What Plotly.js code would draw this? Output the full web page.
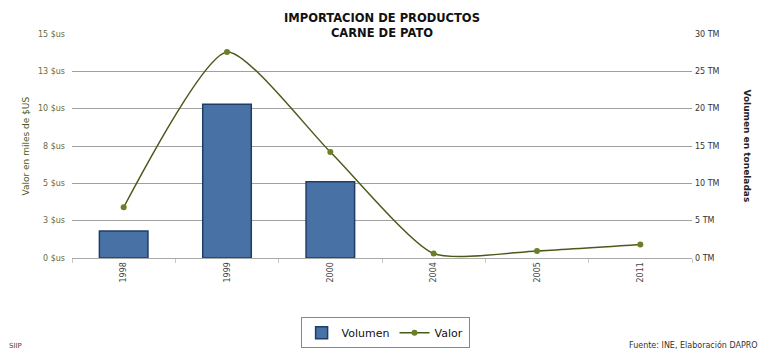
<!DOCTYPE html>
<html>
<head>
<meta charset="utf-8">
<script src="https://cdn.plot.ly/plotly-3.0.1.min.js"></script>
<style>
html,body{margin:0;padding:0;background:#fff;}
#chart{width:768px;height:362px;}
</style>
</head>
<body>
<div id="chart"></div>
<script>
// Data
var years = ["1998", "1999", "2000", "2004", "2005", "2011"];
var volumenTM = [3.6, 20.6, 10.2, null, null, null];
var valorMilesUS = [3.4, 13.8, 7.1, 0.3, 0.47, 0.9];
var leftTickVals = [0, 2.5, 5, 7.5, 10, 12.5, 15];
var leftTickText = ["0 $us", "3 $us", "5 $us", "8 $us", "10 $us", "13 $us", "15 $us"];
var rightTickVals = [0, 5, 10, 15, 20, 25, 30];
var rightTickText = ["0 TM", "5 TM", "10 TM", "15 TM", "20 TM", "25 TM", "30 TM"];
var titleLines = ["IMPORTACION DE PRODUCTOS", "CARNE DE PATO"];

var barTrace = {
  type: "bar",
  name: "Volumen",
  x: years,
  y: volumenTM,
  yaxis: "y",
  width: 0.47,
  marker: {color: "#4872a6", line: {color: "#1e3c68", width: 1.5}},
  hoverinfo: "x+y"
};
var lineTrace = {
  type: "scatter",
  mode: "lines+markers",
  name: "Valor",
  x: years,
  y: valorMilesUS,
  yaxis: "y2",
  line: {color: "#4a5a1c", width: 1.5, shape: "spline", smoothing: 0.6},
  marker: {color: "#6a8028", size: 6}
};

var tickFont = {family: "DejaVu Sans", size: 8, color: "#444"};

var layout = {
  width: 768,
  height: 362,
  margin: {l: 72, r: 76, t: 34, b: 104},
  paper_bgcolor: "#fff",
  plot_bgcolor: "#fff",
  showlegend: true,
  bargap: 0.5,
  xaxis: {
    type: "category",
    range: [-0.5, 5.5],
    tickangle: -90,
    tickfont: tickFont,
    ticks: "outside",
    tickson: "boundaries",
    ticklen: 4,
    tickcolor: "#c8c8c8",
    showline: true,
    linecolor: "#aaa",
    linewidth: 1,
    showgrid: false,
    fixedrange: true
  },
  yaxis: {
    side: "right",
    range: [0, 30],
    tickvals: rightTickVals,
    ticktext: rightTickText,
    tickfont: {family: "DejaVu Sans", size: 8, color: "#333"},
    showgrid: true,
    gridcolor: "#a0a0a0",
    gridwidth: 1,
    zeroline: false,
    ticks: "",
    ticklabelstandoff: 2,
    fixedrange: true
  },
  yaxis2: {
    overlaying: "y",
    side: "left",
    range: [0, 15],
    tickvals: leftTickVals,
    ticktext: leftTickText,
    tickfont: {family: "DejaVu Sans", size: 8, color: "#6a6a3c"},
    showgrid: false,
    zeroline: false,
    ticks: "",
    ticklabelstandoff: 6,
    fixedrange: true
  },
  legend: {
    orientation: "h",
    x: 0.505, xanchor: "center",
    y: -0.265, yanchor: "top",
    bordercolor: "#888",
    borderwidth: 1,
    bgcolor: "#fff",
    font: {family: "DejaVu Sans", size: 11, color: "#111"},
    itemwidth: 30,
    tracegroupgap: 0
  },
  annotations: [
    {text: "<b>" + titleLines[0] + "<br>" + titleLines[1] + "</b>", xref: "paper", yref: "paper", x: 0.5, y: 1.04,
     xanchor: "center", yanchor: "middle", showarrow: false, borderpad: 0,
     font: {family: "DejaVu Sans", size: 11.5, color: "#111"}},
    {text: "Valor en miles de $US", xref: "paper", yref: "paper", x: -0.075, y: 0.5,
     xanchor: "center", yanchor: "middle", textangle: -90, showarrow: false,
     font: {family: "DejaVu Sans", size: 9, color: "#4b5a20"}},
    {text: "<b>Volumen en toneladas</b>", xref: "paper", yref: "paper", x: 1.088, y: 0.5,
     xanchor: "center", yanchor: "middle", textangle: 90, showarrow: false,
     font: {family: "DejaVu Sans", size: 9, color: "#222"}},
    {text: "SIIP", xref: "paper", yref: "paper", x: -0.105, y: -0.395,
     xanchor: "left", yanchor: "middle", showarrow: false,
     font: {family: "DejaVu Sans", size: 7, color: "#444"}},
    {text: "Fuente: INE, Elaboración DAPRO", xref: "paper", yref: "paper", x: 1.11, y: -0.39,
     xanchor: "right", yanchor: "middle", showarrow: false,
     font: {family: "DejaVu Sans", size: 8, color: "#333"}}
  ]
};

Plotly.newPlot("chart", [barTrace, lineTrace], layout, {displayModeBar: false, staticPlot: true});
</script>
</body>
</html>
